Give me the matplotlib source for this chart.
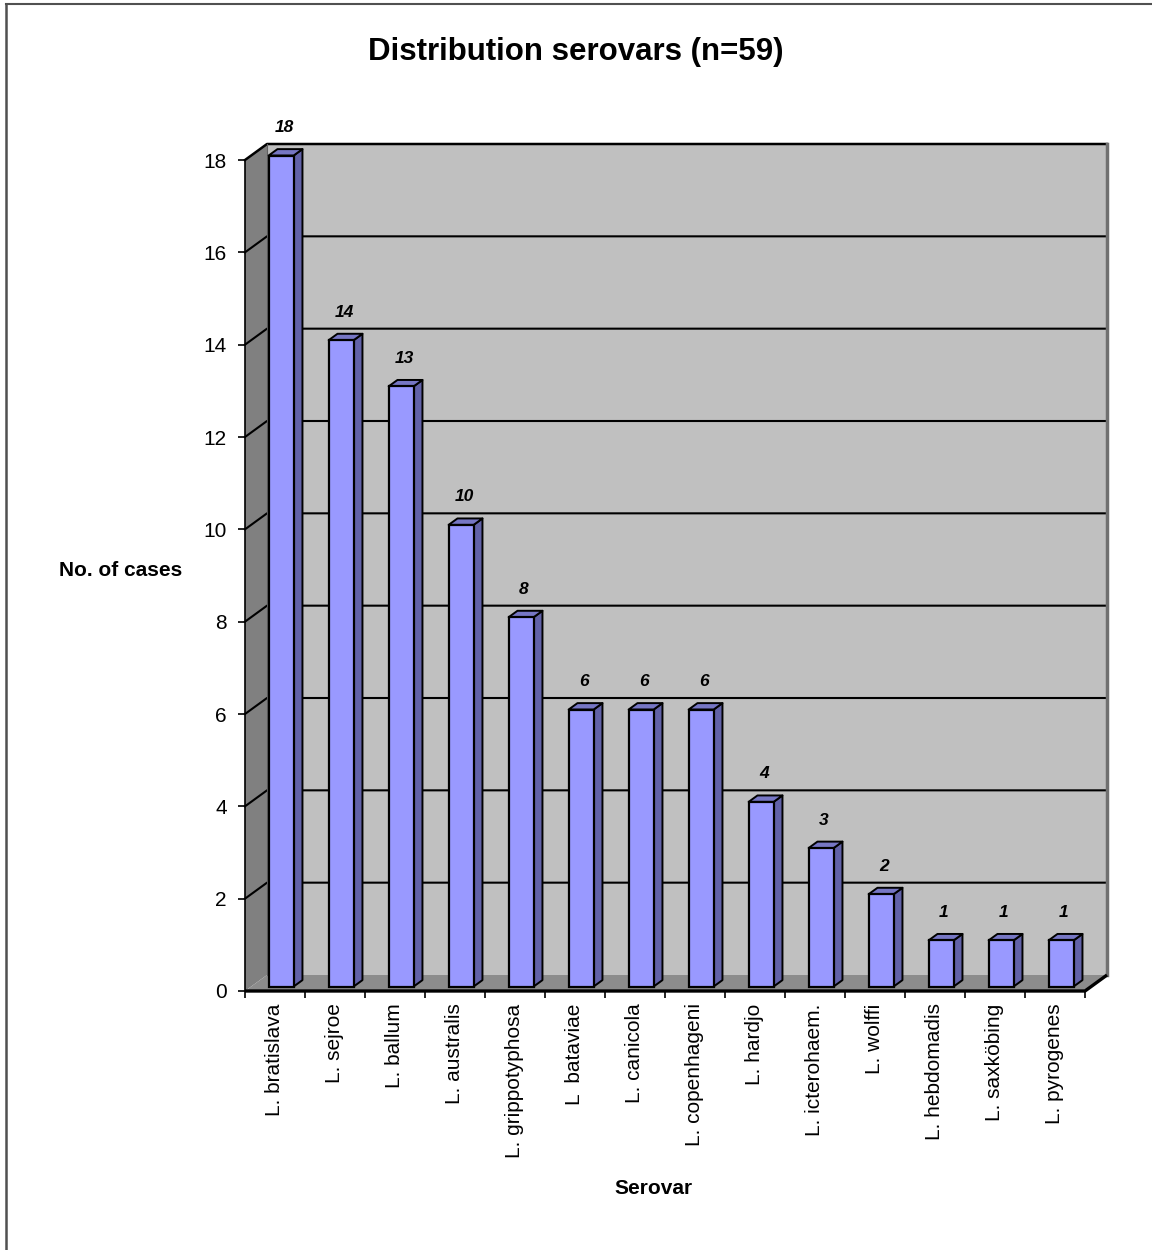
import matplotlib
matplotlib.use("Agg")
import matplotlib.pyplot as plt
from matplotlib.patches import Polygon, Rectangle
from matplotlib.lines import Line2D

plt.rcParams['font.family'] = ['Liberation Sans', 'DejaVu Sans']

# ---- data ----
categories = ["L. bratislava", "L. sejroe", "L. ballum", "L. australis",
              "L. grippotyphosa", "L  bataviae", "L. canicola", "L. copenhageni",
              "L. hardjo", "L. icterohaem.", "L. wolffi", "L. hebdomadis",
              "L. saxköbing", "L. pyrogenes"]
values = [18, 14, 13, 10, 8, 6, 6, 6, 4, 3, 2, 1, 1, 1]
yticks = [0, 2, 4, 6, 8, 10, 12, 14, 16, 18]
title = "Distribution serovars (n=59)"
ylabel = "No. of cases"
xlabel = "Serovar"

W, H = 1152, 1250
fig = plt.figure(figsize=(W / 100, H / 100), dpi=100)

# front plane of the chart in pixels
L, R, B, T = 245, 1085, 991, 160
ax = fig.add_axes([L / W, (H - B) / H, (R - L) / W, (B - T) / H])
n = len(categories)
ymax = 18
ax.set_xlim(-0.5, n - 0.5)
ax.set_ylim(0, ymax)
for s in ax.spines.values():
    s.set_visible(False)
ax.set_facecolor('none')

pxx = (R - L) / n          # px per category
pxy = (B - T) / ymax       # px per y unit
# depth offset (px -> data)
Dx, Dy = 22 / pxx, 16 / pxy

x0, x1 = -0.5, n - 0.5
# back wall
ax.add_patch(Polygon([(x0 + Dx, Dy), (x1 + Dx, Dy), (x1 + Dx, ymax + Dy), (x0 + Dx, ymax + Dy)],
                     closed=True, facecolor='#C0C0C0', edgecolor='none', clip_on=False, zorder=1))
# left wall
ax.add_patch(Polygon([(x0, 0), (x0 + Dx, Dy), (x0 + Dx, ymax + Dy), (x0, ymax)],
                     closed=True, facecolor='#808080', edgecolor='none', clip_on=False, zorder=1))
# floor
ax.add_patch(Polygon([(x0, 0), (x1, 0), (x1 + Dx, Dy), (x0 + Dx, Dy)],
                     closed=True, facecolor='#8C8C8C', edgecolor='none', clip_on=False, zorder=1))

# gridlines
for yv in yticks[1:]:
    lw = 1.8 if yv == ymax else 1.5
    ax.add_line(Line2D([x0, x0 + Dx, x1 + Dx], [yv, yv + Dy, yv + Dy], color='black',
                       lw=lw, clip_on=False, zorder=2))
# right edge of back wall
ax.add_line(Line2D([x1 + Dx, x1 + Dx], [Dy, ymax + Dy], color='#707070', lw=2.5,
                   clip_on=False, zorder=2))
# left wall / back wall corner line
ax.add_line(Line2D([x0 + Dx, x0 + Dx], [Dy, ymax + Dy], color='#606060', lw=0.8,
                   clip_on=False, zorder=2))
# front y axis
ax.add_line(Line2D([x0, x0], [0, ymax], color='black', lw=1.2, clip_on=False, zorder=5))
# front x axis + floor right edge
ax.add_line(Line2D([x0, x1, x1 + Dx], [0, 0, Dy], color='black', lw=2.4,
                   clip_on=False, zorder=6, solid_capstyle='butt'))

# bars
f1, f2 = 0.28, 0.68
bw = 25 / pxx
for i, v in enumerate(values):
    fx, fy = f1 * Dx, f1 * Dy
    bx, by = f2 * Dx, f2 * Dy
    xl = i - bw / 2 + fx
    xr = xl + bw
    yb, yt = fy, v + fy
    side = [(xr, yb), (xr + (bx - fx), yb + (by - fy)), (xr + (bx - fx), yt + (by - fy)), (xr, yt)]
    top = [(xl, yt), (xr, yt), (xr + (bx - fx), yt + (by - fy)), (xl + (bx - fx), yt + (by - fy))]
    ax.add_patch(Polygon(side, closed=True, facecolor='#6262A8', edgecolor='black', lw=1.4,
                         clip_on=False, zorder=3, joinstyle='round'))
    ax.add_patch(Polygon(top, closed=True, facecolor='#7676C4', edgecolor='black', lw=1.4,
                         clip_on=False, zorder=3, joinstyle='round'))
    ax.add_patch(Rectangle((xl, yb), bw, v, facecolor='#9999FF', edgecolor='black', lw=1.6,
                           clip_on=False, zorder=4))
    ax.text(i + 9 / pxx, v + fy + 28 / pxy, str(v), ha='center', va='center',
            fontsize=12.5, fontweight='bold', fontstyle='italic', zorder=7)

# ticks
ax.set_yticks(yticks)
ax.set_yticklabels([str(t) for t in yticks], fontsize=15)
ax.tick_params(axis='y', length=5, width=1.2, pad=8, direction='out', color='black')
ax.set_xticks(range(n))
ax.set_xticklabels(categories, rotation=90, fontsize=15, va='top', ha='center')
ax.set_xticks([k - 0.5 for k in range(n + 1)], minor=True)
ax.tick_params(axis='x', which='major', length=0, pad=9)
ax.tick_params(axis='x', which='minor', length=5, width=1.2, color='black')

# texts
fig.text(576 / W, 1 - 52 / H, title, ha='center', va='center', fontsize=22.5, fontweight='bold')
fig.text(121 / W, 1 - 570 / H, ylabel, ha='center', va='center', fontsize=15, fontweight='bold')
fig.text(653 / W, 1 - 1189 / H, xlabel, ha='center', va='center', fontsize=15, fontweight='bold')

# outer border (top and left)
fig.add_artist(Line2D([6 / W, 1.0], [1 - 4 / H, 1 - 4 / H], transform=fig.transFigure,
                      color='#505050', lw=1.5))
fig.add_artist(Line2D([6 / W, 6 / W], [1 - 4 / H, 0.0], transform=fig.transFigure,
                      color='#505050', lw=1.8))

fig.savefig("out.png", dpi=100)
